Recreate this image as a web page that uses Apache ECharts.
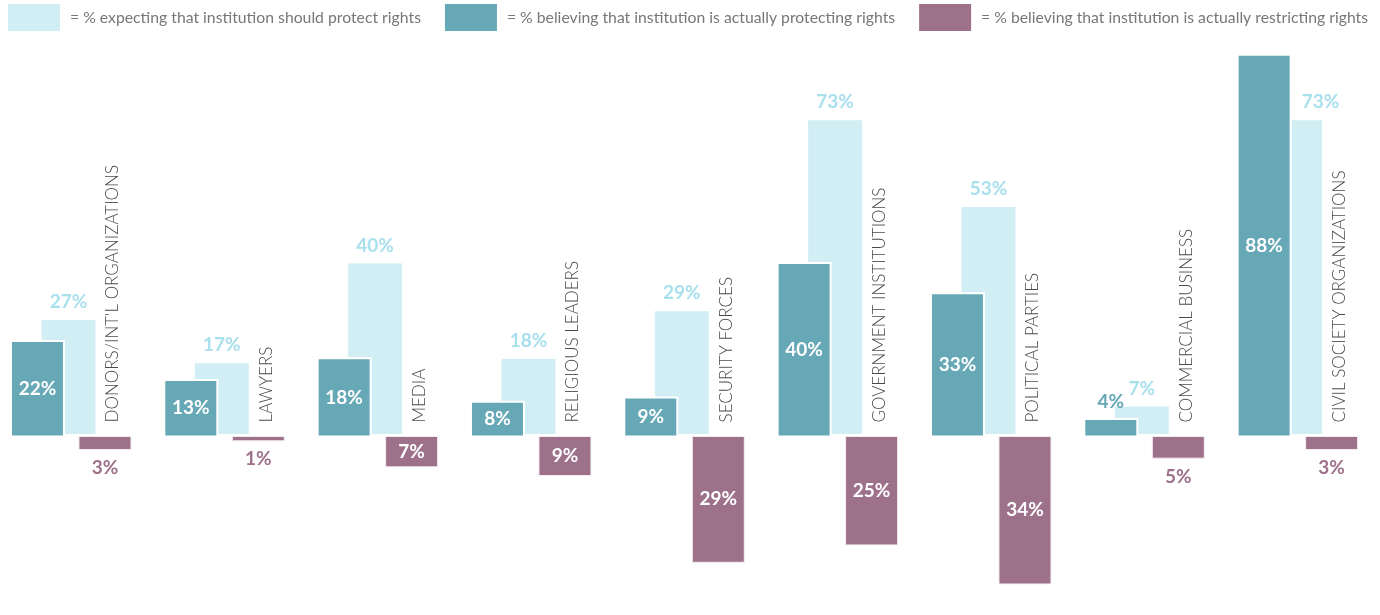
<!DOCTYPE html>
<html>
<head>
<meta charset="utf-8">
<script src="https://cdn.jsdelivr.net/npm/echarts@6/dist/echarts.min.js"></script>
<style>
  html, body { margin: 0; padding: 0; background: #fff; }
  #chart { width: 1380px; height: 615px; }
</style>
</head>
<body>
<div id="chart"></div>
<script>
// Institutions surveyed
const categories = [
  "DONORS/INT'L ORGANIZATIONS",
  'LAWYERS',
  'MEDIA',
  'RELIGIOUS LEADERS',
  'SECURITY FORCES',
  'GOVERNMENT INSTITUTIONS',
  'POLITICAL PARTIES',
  'COMMERCIAL BUSINESS',
  'CIVIL SOCIETY ORGANIZATIONS'
];
// % expecting that institution should protect rights
const expecting = [27, 17, 40, 18, 29, 73, 53, 7, 73];
// % believing that institution is actually protecting rights
const protecting = [22, 13, 18, 8, 9, 40, 33, 4, 88];
// % believing that institution is actually restricting rights
const restricting = [3, 1, 7, 9, 29, 25, 34, 5, 3];

const seriesNames = [
  '% expecting that institution should protect rights',
  '% believing that institution is actually protecting rights',
  '% believing that institution is actually restricting rights'
];

const C_LIGHT = '#d2eef5';
const C_LIGHT_TEXT = '#a9e0ee';
const C_TEAL = '#67a8b6';
const C_PURPLE = '#9e718b';
const FONT = 'Lato, "Open Sans", sans-serif';

// Horizontal layout of the three bars within a category band (pixels from band centre)
const TEAL_LEFT = -65.7, TEAL_W = 53;
const LIGHT_LEFT = TEAL_LEFT + 30, LIGHT_W = 55;
const PURPLE_LEFT = TEAL_LEFT + 68, PURPLE_W = 52;

function pairs(arr) { return arr.map((v, i) => [i, v]); }

function renderExpecting(params, api) {
  const idx = api.value(0), v = api.value(1);
  const p0 = api.coord([idx, 0]), p1 = api.coord([idx, v]);
  const left = p0[0] + LIGHT_LEFT;
  return {
    type: 'rect',
    shape: { x: left, y: p1[1], width: LIGHT_W, height: p0[1] - p1[1] - 2 },
    style: { fill: C_LIGHT, stroke: '#fff', lineWidth: 1 }
  };
}

// Value labels of the light bars and the vertical institution names, kept on top of all bars
function renderExpectingLabels(params, api) {
  const idx = api.value(0), v = api.value(1);
  const p0 = api.coord([idx, 0]), p1 = api.coord([idx, v]);
  const left = p0[0] + LIGHT_LEFT;
  // when the darker bar in front is taller, move the label over the exposed edge
  const covered = protecting[idx] > v;
  const cx = covered ? left + LIGHT_W - 2 : left + LIGHT_W / 2;
  return {
    type: 'group',
    children: [
      { type: 'text',
        style: { text: v + '%', x: cx, y: p1[1] - 8,
          align: 'center', verticalAlign: 'bottom',
          fill: C_LIGHT_TEXT, font: 'bold 19px ' + FONT } },
      { type: 'text', x: left + LIGHT_W + 17, y: p0[1] - 14, rotation: Math.PI / 2,
        style: { text: categories[idx], x: 0, y: 0, align: 'left', verticalAlign: 'middle',
          fill: '#4a4a4a', font: '300 17px ' + FONT } }
    ]
  };
}

function renderProtecting(params, api) {
  const idx = api.value(0), v = api.value(1);
  const p0 = api.coord([idx, 0]), p1 = api.coord([idx, v]);
  const left = p0[0] + TEAL_LEFT;
  const h = p0[1] - p1[1];
  const inside = h >= 28;
  return {
    type: 'group',
    children: [
      { type: 'rect',
        shape: { x: left, y: p1[1], width: TEAL_W, height: h },
        style: { fill: C_TEAL, stroke: '#fff', lineWidth: 2 } },
      { type: 'text',
        style: { text: v + '%', x: left + TEAL_W / 2,
          y: inside ? (p0[1] + p1[1]) / 2 : p1[1] - 8,
          align: 'center', verticalAlign: inside ? 'middle' : 'bottom',
          fill: inside ? '#fff' : C_TEAL, font: 'bold 19px ' + FONT } }
    ]
  };
}

function renderRestricting(params, api) {
  const idx = api.value(0), v = api.value(1);
  const p0 = api.coord([idx, 0]), p1 = api.coord([idx, -v]);
  const left = p0[0] + PURPLE_LEFT;
  const h = p1[1] - p0[1];
  const inside = h >= 28;
  return {
    type: 'group',
    children: [
      { type: 'rect',
        shape: { x: left, y: p0[1], width: PURPLE_W, height: h },
        style: { fill: C_PURPLE, stroke: '#f4eef2', lineWidth: 1 } },
      { type: 'text',
        style: { text: v + '%', x: left + PURPLE_W / 2,
          y: inside ? (p0[1] + p1[1]) / 2 : p1[1] + 9,
          align: 'center', verticalAlign: inside ? 'middle' : 'top',
          fill: inside ? '#fff' : C_PURPLE, font: 'bold 19px ' + FONT } }
    ]
  };
}

const chart = echarts.init(document.getElementById('chart'), null, { renderer: 'canvas' });
chart.setOption({
  animation: false,
  backgroundColor: '#fff',
  legend: {
    left: 8, top: 4, width: 1372,
    padding: 0,
    icon: 'rect',
    itemWidth: 52, itemHeight: 27,
    itemGap: 24,
    selectedMode: false,
    data: seriesNames,
    formatter: name => '= ' + name,
    textStyle: { color: '#777', fontSize: 15.75, fontFamily: FONT, padding: [0, 0, 0, 5] }
  },
  grid: { left: 0, right: 0, top: 46, bottom: 5, containLabel: false },
  xAxis: { type: 'category', data: categories, show: false },
  yAxis: { type: 'value', min: -40, max: 90, show: false },
  series: [
    { name: seriesNames[0], type: 'custom', z: 1, renderItem: renderExpecting,
      itemStyle: { color: C_LIGHT }, encode: { x: 0, y: 1 }, data: pairs(expecting) },
    { name: seriesNames[1], type: 'custom', z: 3, renderItem: renderProtecting,
      itemStyle: { color: C_TEAL }, encode: { x: 0, y: 1 }, data: pairs(protecting) },
    { name: seriesNames[2], type: 'custom', z: 2, renderItem: renderRestricting,
      itemStyle: { color: C_PURPLE }, encode: { x: 0, y: 1 }, data: pairs(restricting) },
    { name: 'labels', type: 'custom', z: 5, renderItem: renderExpectingLabels,
      encode: { x: 0, y: 1 }, data: pairs(expecting), silent: true }
  ]
});
</script>
</body>
</html>
